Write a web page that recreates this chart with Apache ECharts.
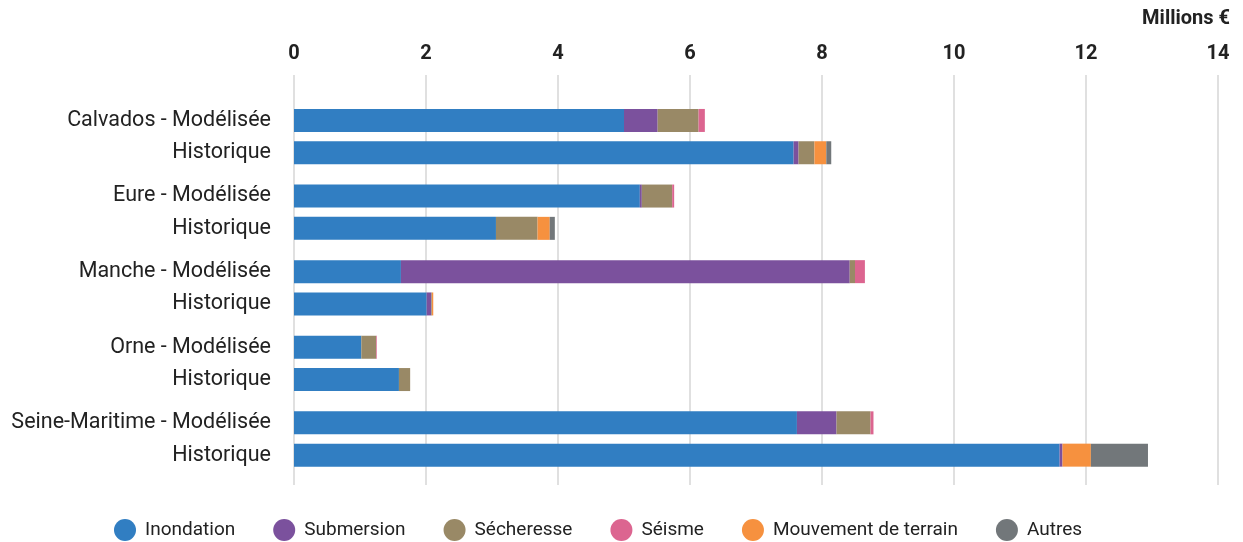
<!DOCTYPE html>
<html>
<head>
<meta charset="utf-8">
<script src="https://cdn.jsdelivr.net/npm/echarts@6/dist/echarts.min.js"></script>
<style>
html,body{margin:0;padding:0;background:#fff;}
#chart{width:1243px;height:542px;}
</style>
</head>
<body>
<div id="chart"></div>
<script>
// ---- data ----
const departements = ['Calvados', 'Eure', 'Manche', 'Orne', 'Seine-Maritime'];
const pairLabels = ['Modélisée', 'Historique'];
const seriesNames = ['Inondation', 'Submersion', 'Sécheresse', 'Séisme', 'Mouvement de terrain', 'Autres'];
// order: [Calvados Mod, Calvados Hist, Eure Mod, Eure Hist, Manche Mod, Manche Hist, Orne Mod, Orne Hist, SM Mod, SM Hist]
const inondation = [5.00, 7.57, 5.24, 3.06, 1.62, 2.01, 1.02, 1.59, 7.62, 11.60];
const submersion = [0.51, 0.075, 0.03, 0, 6.80, 0.07, 0, 0, 0.60, 0.044];
const secheresse = [0.62, 0.24, 0.46, 0.63, 0.08, 0.01, 0.225, 0.17, 0.515, 0];
const seisme     = [0.095, 0, 0.03, 0, 0.15, 0, 0.01, 0, 0.045, 0];
const mouvement  = [0, 0.18, 0, 0.185, 0, 0.02, 0, 0, 0, 0.43];
const autres     = [0, 0.075, 0, 0.077, 0, 0, 0, 0, 0, 0.865];
const xTicks = [0, 2, 4, 6, 8, 10, 12, 14];
const unitLabel = 'Millions €';

// ---- style / layout ----
const colors = ['#317ec2', '#7b519d', '#998966', '#dc6590', '#f6913f', '#72777a'];
const FONT = 'Roboto, "Noto Sans", sans-serif';
const firstTop = 104.3, period = 75.6, band = 32.3;
const allSeries = [inondation, submersion, secheresse, seisme, mouvement, autres];
const xMin = xTicks[0], xMax = xTicks[xTicks.length - 1];

const grids = [{left: 294, right: 25, top: 75, bottom: 57}];
const xAxes = [{
  gridIndex: 0, type: 'value', position: 'top', min: xMin, max: xMax, interval: 2,
  axisLine: {show: false}, axisTick: {show: false},
  axisLabel: {fontSize: 20, fontWeight: 'bold', color: '#222222', margin: 11, fontFamily: FONT},
  splitLine: {show: true, lineStyle: {color: '#d6d6d6', width: 1.5}}
}];
const yAxes = [{gridIndex: 0, type: 'value', show: false, splitLine: {show: false}}];
const series = [];
departements.forEach((d, g) => {
  const gi = g + 1;
  grids.push({left: 294, right: 25, top: firstTop + g * period, height: band * 2});
  xAxes.push({gridIndex: gi, type: 'value', min: xMin, max: xMax, show: false, splitLine: {show: false}});
  yAxes.push({
    gridIndex: gi, type: 'category', inverse: true,
    data: [d + ' - ' + pairLabels[0], pairLabels[1]],
    axisLine: {show: false}, axisTick: {show: false},
    axisLabel: {interval: 0, fontSize: 21.5, fontWeight: 'normal', color: '#222222', margin: 23, fontFamily: FONT, padding: [7, 0, 0, 0]}
  });
  allSeries.forEach((arr, k) => {
    series.push({
      name: seriesNames[k], type: 'bar', stack: 'total' + g,
      xAxisIndex: gi, yAxisIndex: gi, barWidth: 23,
      itemStyle: {color: colors[k]},
      data: [arr[2 * g], arr[2 * g + 1]].map(v => v > 0 ? v : '-')
    });
  });
});

const chart = echarts.init(document.getElementById('chart'), null, {renderer: 'canvas'});
chart.setOption({
  animation: false,
  backgroundColor: '#ffffff',
  textStyle: {fontFamily: FONT},
  graphic: [{
    type: 'text', right: 13, top: 9,
    style: {text: unitLabel, font: 'bold 20px ' + FONT, fill: '#222222'}
  }],
  grid: grids,
  xAxis: xAxes,
  yAxis: yAxes,
  legend: {
    left: 109, top: 514, padding: 5, icon: 'circle', itemWidth: 22, itemHeight: 22, itemGap: 38,
    data: seriesNames,
    textStyle: {fontSize: 19, color: '#222222', fontFamily: FONT, padding: [0, 0, 0, 4]}
  },
  series: series
});
</script>
</body>
</html>
